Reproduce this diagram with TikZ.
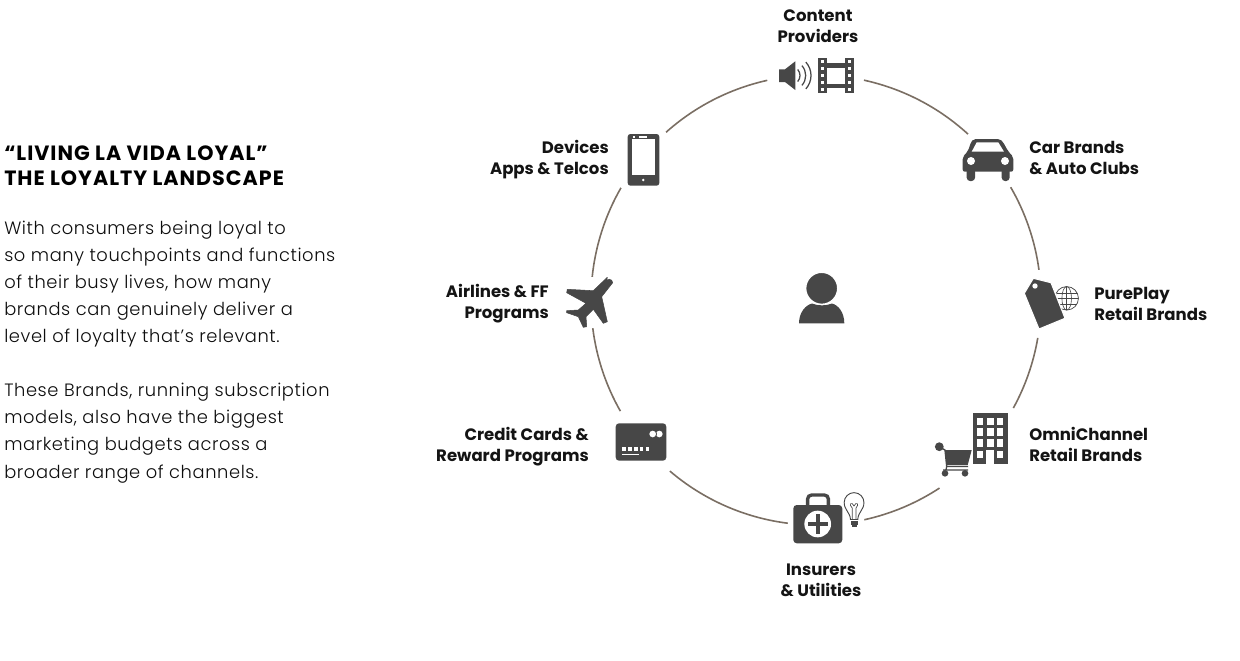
\documentclass[tikz,border=0pt]{standalone}
\usepackage{fontspec}
\setmainfont{Poppins}
\newfontfamily\lightface[LetterSpace=3.3]{Poppins Light}
\tikzset{
  lbl/.style={inner sep=0pt,font=\fontsize{12.4}{15.75}\selectfont\bfseries,text=black!92,anchor=base},
  ring/.style={line width=1.2pt,draw=ringc},
  wire/.style={draw=icon,fill=none,line width=.55pt},
}
\definecolor{icon}{HTML}{474747}
\definecolor{ringc}{HTML}{7A6E63}
\newcommand{\ringarc}[2]{\draw[ring] (c) ++(#1:168.75pt) arc[start angle=#1,end angle=#2,radius=168.75pt];}
\begin{document}
\begin{tikzpicture}[x=.75pt,y=-.75pt]
\useasboundingbox (0,0) rectangle (1240,661);
\coordinate (c) at (816,300);
% ring
\ringarc{102.5}{131.8}
\ringarc{77.7}{47.5}
\ringarc{30.1}{7.7}
\ringarc{-9.7}{-28.7}
\ringarc{-56.7}{-77.6}
\ringarc{-97.2}{-130.5}
\ringarc{-150.4}{-172.8}
\ringarc{174.1}{150.1}
% left text
\node[anchor=base west,inner sep=0pt,align=left,font=\fontsize{15.5}{18.5}\selectfont\bfseries\addfontfeature{LetterSpace=4.8},text=black] (title) at (4,185) {“LIVING LA VIDA LOYAL”\\THE LOYALTY LANDSCAPE};
\node[anchor=base west,inner sep=0pt,align=left,font=\fontsize{13.4}{20.3}\selectfont\lightface,text=black!95] (body) at (4,478) {With consumers being loyal to\\so many touchpoints and functions\\of their busy lives, how many\\brands can genuinely deliver a\\level of loyalty that’s relevant.\\[20.3pt]These Brands, running subscription\\models, also have the biggest\\marketing budgets across a\\broader range of channels.};
% labels
\node[lbl,align=center] (l1) at (818,42) {Content\\Providers};
\node[lbl,align=right,anchor=base east] (l2) at (609,174) {Devices\\Apps \& Telcos};
\node[lbl,align=left,anchor=base west] (l3) at (1029,174) {Car Brands\\\& Auto Clubs};
\node[lbl,align=left,anchor=base west] (l4) at (1094,320) {PurePlay\\Retail Brands};
\node[lbl,align=right,anchor=base east] (l5) at (549,318) {Airlines \& FF\\Programs};
\node[lbl,align=left,anchor=base west] (l6) at (1029,461) {OmniChannel\\Retail Brands};
\node[lbl,align=right,anchor=base east] (l7) at (589,461) {Credit Cards \&\\Reward Programs};
\node[lbl,align=center] (l8) at (821,596) {Insurers\\\& Utilities};
% speaker
\fill[icon] (779,69.3)--(785,69.3)--(795.3,61.3)--(795.3,90)--(785,82)--(779,82)--cycle;
\foreach \r in {9,14.7,20}
  \draw[icon,line width=.95pt] (791,75.5) ++(-42:\r*.75pt) arc[start angle=-42,end angle=42,radius=\r*.75pt];
% film
\fill[icon] (818.3,58.3) rectangle (826.7,93.3);
\fill[icon] (845,58.3) rectangle (853.5,93.3);
\fill[icon] (826.7,63.3) rectangle (845,68.3);
\fill[icon] (826.7,84) rectangle (845,88.3);
\foreach \y in {59.5,66.5,73.5,80.5,87.5}{
  \fill[white] (821,\y) rectangle +(3,3);
  \fill[white] (847.8,\y) rectangle +(3,3);
}
% car
\fill[icon,rounded corners=1.6pt] (962.7,171.7)--(962.7,157)--(968,151)--(971,142)--(973.5,139)--(1000,139)--(1003,142)--(1008,151)--(1013.3,157)--(1013.3,171.7)--cycle;
\fill[icon,rounded corners=2.5pt] (966.7,168)rectangle(975,181);
\fill[icon,rounded corners=2.5pt] (1001.7,168)rectangle(1009.6,181);
\fill[white] (971.7,151.7)--(976.7,142.3)--(998.3,142.3)--(1004,151.7)--cycle;
\fill[white] (971,161) circle[radius=3pt];
\fill[white] (1005,161) circle[radius=3pt];
% phone
\fill[icon,rounded corners=2pt] (627.7,134) rectangle (659.3,185.7);
\fill[white] (631.7,139.3) rectangle (655,175);
\fill[white] (643.3,180) circle[radius=1pt];
\fill[white] (639.3,136.2) rectangle (647.3,137.6);
\fill[white] (633,136.2) rectangle (634.5,137.6);
% plane
\fill[icon,draw=icon,line width=.4pt,line join=round]
 (607.3,277.3)--(593.3,290.7)--(567.3,289.3)--(566.7,292.7)--(586,303.3)--(578.3,310)--(566.7,310.7)--(566.7,312.7)--(578.3,316.7)--(583.3,327.3)--(586.7,326.7)--(586,316.7)--(593.3,309.3)--(603.3,323.3)--(607.3,321.7)--(601.7,296.7)--(612.7,282.7)
 arc[start angle=0,end angle=135,radius=2.6pt]--cycle;
% tag + globe
\begin{scope}[shift={(1066.7,298.3)}]
\draw[wire] (0,0) circle[radius=8.8pt];
\draw[wire,line width=.45pt] (0,0) ellipse[x radius=3.6pt,y radius=8.8pt];
\draw[wire,line width=.45pt] (0,-11.7)--(0,11.7) (-11.7,0)--(11.7,0) (-10,-5.5)--(10,-5.5) (-10,5.5)--(10,5.5);
\end{scope}
\fill[icon,draw=white,line width=.8pt] (1033.3,278.3)--(1051,282.7)--(1065,318.3)--(1039,329)--(1024.3,293.3)--cycle;
\fill[white] (1035,286) circle[radius=2pt];
% building
\fill[icon] (972.7,413.3) rectangle (1007.7,464.3);
\foreach \x in {976.7,987,996.7}\foreach \y in {417.7,428.3,439.3}
  \fill[white] (\x,\y) rectangle +(6.7,7.2);
\fill[white] (976.7,450.7) rectangle +(6.7,7.2);
\fill[white] (996.7,450.7) rectangle +(6.7,7.2);
\fill[white] (986,450) rectangle (993.7,464.3);
% cart
\fill[icon] (939.3,446.7) circle[radius=3.3pt];
\fill[icon] (945,450)--(971.7,450)--(967.7,465)--(946.7,465)--cycle;
\draw[icon,line width=1pt] (939.3,446.7)--(945,450)--(946.7,466.5)--(968,466.5) (943,470)--(968,470) (946.7,466.5)--(946,470);
\fill[icon] (945,473.3) circle[radius=2.5pt];
\fill[icon] (965,473.3) circle[radius=2.5pt];
% card
\fill[icon,rounded corners=2.5pt] (615.7,423.3) rectangle (666.3,460.7);
\fill[white] (659.3,434) circle[radius=2.5pt];
\fill[icon] (652.7,434) circle[radius=3.2pt];
\fill[white] (652.7,434) circle[radius=2.5pt];
\foreach \x in {622.3,628.2,634.1,640,645.9}
  \fill[white] (\x,446.7) rectangle +(3.4,4);
\fill[white] (622.3,454) rectangle (639.3,455.3);
% kit
\draw[icon,line width=2.5pt,rounded corners=3pt] (807.6,506)--(807.6,495)--(828.4,495)--(828.4,506);
\fill[icon,rounded corners=2.6pt] (793.3,505) rectangle (842.3,543.3);
\fill[white] (817.7,524) circle[radius=10pt];
\fill[icon] (807.7,522.2) rectangle (827.7,525.8);
\fill[icon] (815.9,514) rectangle (819.5,534);
% bulb
\draw[icon,line width=.7pt] (850.5,519.5) .. controls (850,512) and (844.2,510) .. (844.2,502.5) arc[start angle=180,end angle=0,radius=7.4pt] .. controls (864,510) and (858,512) .. (857.8,519.5)--cycle;
\draw[icon,line width=.5pt] (852.2,519.5)--(852.2,508) .. controls (848,504) and (852,501) .. (854,506) .. controls (856,501) and (860,504) .. (856,508)--(856,519.5);
\fill[icon] (850.5,520.5) rectangle (858,525);
\fill[icon] (851.8,525) rectangle (856.8,527.3);
% person
\fill[icon] (799,323.3) .. controls (799,312) and (806,305) .. (812,303.5) .. controls (818,306) and (826,306) .. (832,303.5) .. controls (838,305) and (844.3,312) .. (844.3,323.3)--cycle;
\fill[icon,draw=white,line width=1pt] (821.7,288.3) circle[radius=12pt];
\end{tikzpicture}
\end{document}
